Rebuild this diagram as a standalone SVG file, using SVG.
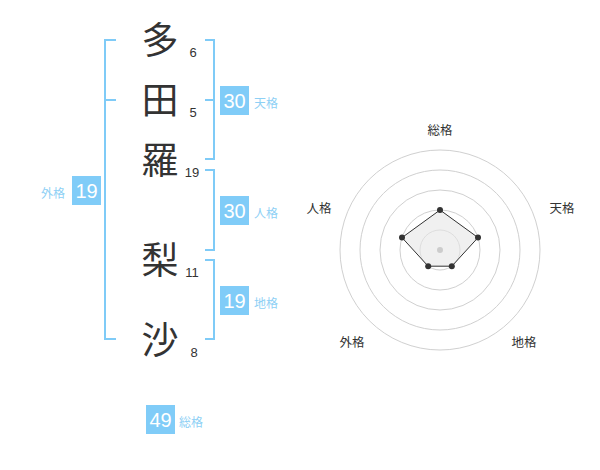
<svg xmlns="http://www.w3.org/2000/svg" width="600" height="470" viewBox="0 0 600 470">
<style>
.ch{font-family:"Noto Sans CJK JP","Noto Sans CJK SC",sans-serif;font-size:37px;fill:#333;text-anchor:middle}
.st{font-family:"Liberation Sans",Arial,sans-serif;font-size:13px;fill:#333;text-anchor:middle}
.br{fill:none;stroke:#7FCBF7;stroke-width:2}
.bx{fill:#80CCF8}
.bn{font-family:"Liberation Sans",Arial,sans-serif;font-size:20px;fill:#fff;text-anchor:middle}
.lb{font-family:"Noto Sans CJK JP","Noto Sans CJK SC",sans-serif;font-size:12px;fill:#8ED0F5}
.rl{font-family:"Noto Sans CJK JP","Noto Sans CJK SC",sans-serif;font-size:12.5px;fill:#333;text-anchor:middle}
.ring{fill:none;stroke:#d0d0d0;stroke-width:1}
.pt{fill:#333}
</style>
<rect width="600" height="470" fill="#fff"/>
<g id="chars">
<g id="c1"><text class="ch" x="160" y="54">多</text><text class="st" x="193" y="57">6</text></g>
<g id="c2"><text class="ch" x="160" y="114">田</text><text class="st" x="193" y="117">5</text></g>
<g id="c3"><text class="ch" x="160" y="174">羅</text><text class="st" x="192" y="177">19</text></g>
<g id="c4"><text class="ch" x="160" y="274">梨</text><text class="st" x="192" y="277">11</text></g>
<g id="c5"><text class="ch" x="160" y="354">沙</text><text class="st" x="194" y="357">8</text></g>
</g>
<g id="connectors">
<path class="br" d="M116,40 H105 V339 H116 M105,100 H116"/>
<path class="br" d="M205,40 H214 V159 H205 M205,100 H214"/>
<path class="br" d="M205,170 H214 V250 H205"/>
<path class="br" d="M205,260 H214 V339 H205"/>
</g>
<g id="tenkaku"><rect class="bx" x="220" y="86" width="29" height="29"/><text class="bn" x="234.5" y="108">30</text><text class="lb" x="254" y="108">天格</text></g>
<g id="jinkaku"><rect class="bx" x="220" y="196" width="29" height="29"/><text class="bn" x="234.5" y="218">30</text><text class="lb" x="254" y="218">人格</text></g>
<g id="chikaku"><rect class="bx" x="220" y="286" width="29" height="29"/><text class="bn" x="234.5" y="308">19</text><text class="lb" x="254" y="308">地格</text></g>
<g id="gaikaku"><rect class="bx" x="72" y="176" width="29" height="29"/><text class="bn" x="86.5" y="198">19</text><text class="lb" x="41" y="198">外格</text></g>
<g id="soukaku"><rect class="bx" x="146" y="405" width="29" height="29"/><text class="bn" x="160.5" y="427">49</text><text class="lb" x="179" y="427">総格</text></g>
<g id="radar">
<circle class="ring" cx="440" cy="250" r="20"/>
<circle class="ring" cx="440" cy="250" r="40"/>
<circle class="ring" cx="440" cy="250" r="60"/>
<circle class="ring" cx="440" cy="250" r="80"/>
<circle class="ring" cx="440" cy="250" r="100"/>
<polygon points="440,210 478,237.6 451.8,266.2 428.2,266.2 402,237.6" fill="#e6e6e6" fill-opacity="0.6" stroke="#333" stroke-width="1"/>
<circle cx="440" cy="250" r="3" fill="#ccc"/>
<circle class="pt" cx="440" cy="210" r="3"/>
<circle class="pt" cx="478" cy="237.6" r="3"/>
<circle class="pt" cx="451.8" cy="266.2" r="3"/>
<circle class="pt" cx="428.2" cy="266.2" r="3"/>
<circle class="pt" cx="402" cy="237.6" r="3"/>
<text class="rl" x="440" y="135">総格</text>
<text class="rl" x="562" y="213">天格</text>
<text class="rl" x="524" y="347">地格</text>
<text class="rl" x="352" y="347">外格</text>
<text class="rl" x="319" y="213">人格</text>
</g>
</svg>
